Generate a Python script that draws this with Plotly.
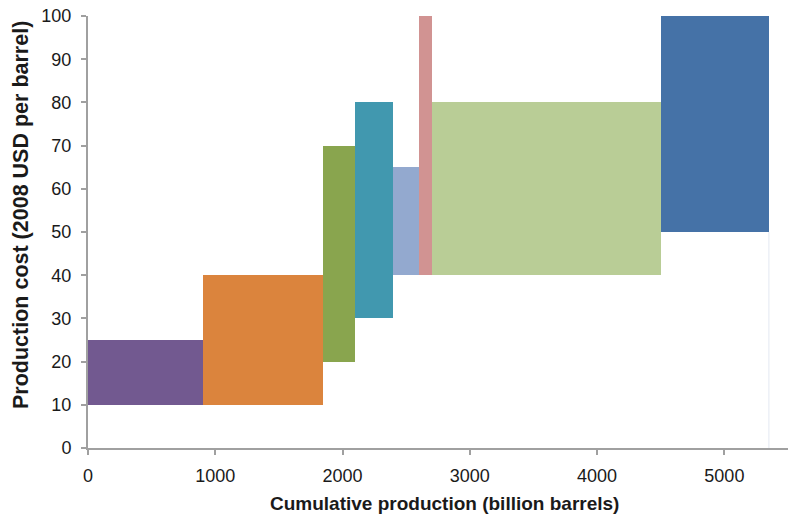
import plotly.graph_objects as go

# Resource volumes (billion barrels) in order along the supply curve
volumes = [900, 950, 245, 305, 200, 100, 1800, 850]
cost_low = [10, 10, 20, 30, 40, 40, 40, 50]
cost_high = [25, 40, 70, 80, 65, 100, 80, 100]
colors = ["#725990", "#DB843D", "#89A54E", "#4198AF", "#93A9CF", "#D19392", "#B9CD96", "#4572A7"]

x_ticks = [0, 1000, 2000, 3000, 4000, 5000]
y_ticks = [0, 10, 20, 30, 40, 50, 60, 70, 80, 90, 100]
x_title = "Cumulative production (billion barrels)"
y_title = "Production cost (2008 USD per barrel)"

lefts = []
acc = 0
for v in volumes:
    lefts.append(acc)
    acc += v
total = acc

fig = go.Figure()
fig.add_trace(go.Bar(
    x=[l + v / 2 for l, v in zip(lefts, volumes)],
    y=[h - lo for lo, h in zip(cost_low, cost_high)],
    base=cost_low,
    width=volumes,
    marker=dict(color=colors, line=dict(width=0)),
    showlegend=False,
))
# faint vertical edge at the end of the curve
fig.add_trace(go.Scatter(
    x=[total, total], y=[0, cost_low[-1]], mode="lines",
    line=dict(color="#e3e8f1", width=1), showlegend=False, hoverinfo="skip",
))

font_main = "Liberation Sans, Arial, sans-serif"
fig.update_layout(
    width=788, height=515,
    margin=dict(l=88, r=0, t=16, b=67),
    plot_bgcolor="white", paper_bgcolor="white",
    font=dict(family=font_main, size=18, color="#1a1a1a"),
    bargap=0,
    xaxis=dict(
        range=[0, 5500], tickvals=x_ticks, ticktext=[str(t) for t in x_ticks],
        showgrid=False, zeroline=False, showline=True, linecolor="#a0a0a0", linewidth=2,
        ticks="outside", ticklen=5, tickcolor="#a0a0a0", tickwidth=2,
        ticklabelstandoff=5, automargin=False,
    ),
    yaxis=dict(
        range=[0, 100], tickvals=y_ticks,
        showgrid=False, zeroline=False, showline=True, linecolor="#a0a0a0", linewidth=2,
        ticks="outside", ticklen=5, tickcolor="#a0a0a0", tickwidth=2,
        ticklabelstandoff=6, automargin=False,
    ),
    annotations=[
        dict(text="<b>" + x_title + "</b>", xref="paper", yref="paper",
             x=(444 - 88) / 700, y=-(504 - 448) / 432, xanchor="center", yanchor="middle",
             showarrow=False, font=dict(size=19)),
        dict(text="<b>" + y_title + "</b>", xref="paper", yref="paper",
             x=-(88 - 21) / 700, y=(448 - 215) / 432, xanchor="center", yanchor="middle",
             textangle=-90, showarrow=False, font=dict(size=21.5)),
    ],
)

fig.write_html("out.html", config={"displayModeBar": False},
               post_script="document.body.style.margin='0';document.body.style.overflow='hidden';")
